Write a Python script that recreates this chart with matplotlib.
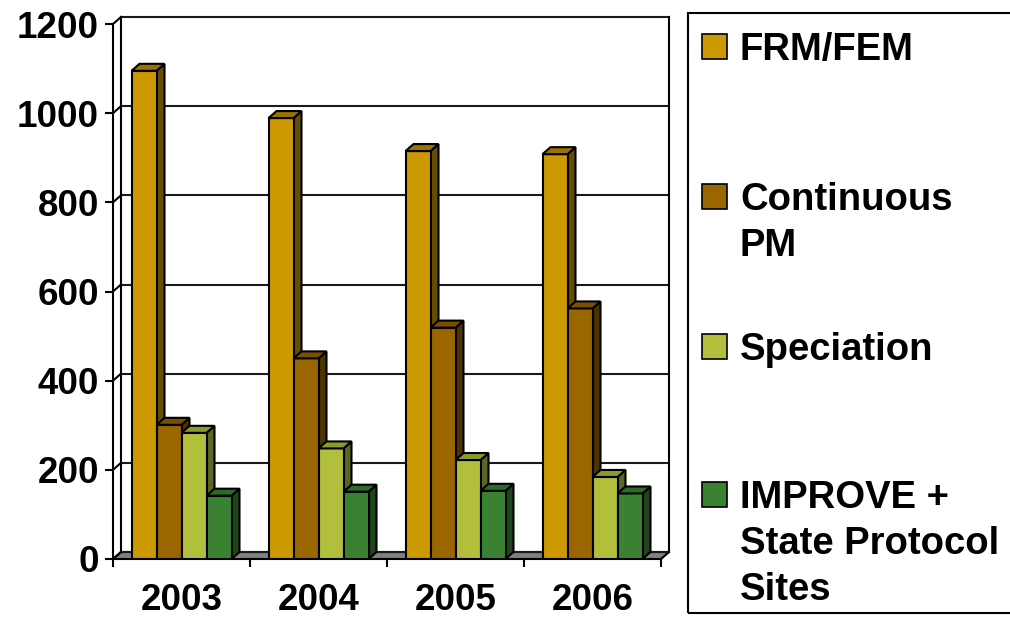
import matplotlib
matplotlib.use('Agg')
import matplotlib.pyplot as plt
from matplotlib.patches import Polygon, Rectangle
import numpy as np

plt.rcParams['font.family'] = ['Liberation Sans', 'DejaVu Sans']

years = ['2003', '2004', '2005', '2006']
series = ['FRM/FEM', 'Continuous\nPM', 'Speciation', 'IMPROVE +\nState Protocol\nSites']
frm_fem = [1095, 989, 915, 908]
continuous_pm = [301, 450, 519, 562]
speciation = [283, 248, 222, 184]
improve_state = [142, 151, 153, 147]
values = [frm_fem, continuous_pm, speciation, improve_state]
y_ticks = [0, 200, 400, 600, 800, 1000, 1200]

# front, top, side shades for each series
front_colors = ['#CC9900', '#996600', '#B2BF3D', '#3A8232']
top_colors = ['#997300', '#7A5000', '#8A9A30', '#2D6A27']
side_colors = ['#664D00', '#4D3300', '#5A6622', '#1F461B']

W, H = 1010, 619
fig = plt.figure(figsize=(W / 100, H / 100), dpi=100)

# front plane of the plot, in pixels
x0, x1 = 113, 661
y_base, y_top = 559, 24
ax = fig.add_axes([x0 / W, 1 - y_base / H, (x1 - x0) / W, (y_base - y_top) / H])
ax.set_xlim(-0.5, 3.5)
ax.set_ylim(0, 1200)
for s in ax.spines.values():
    s.set_visible(False)

px_x = (x1 - x0) / 4.0
px_y = (y_base - y_top) / 1200.0
dx = 8 / px_x          # depth offset, horizontal
dy = 7 / px_y          # depth offset, vertical
bar_w = 25 / px_x
lw = 1.5

xl, xr = -0.5, 3.5

# floor
floor = Polygon([(xl, 0), (xr, 0), (xr + dx, dy), (xl + dx, dy)], closed=True,
                facecolor='#808080', edgecolor='black', lw=lw, clip_on=False, zorder=1)
ax.add_patch(floor)

# back wall and left wall lines
for v in y_ticks:
    ax.plot([xl + dx, xr + dx], [v + dy, v + dy], color='#1a1a1a', lw=lw, clip_on=False, zorder=1)
    ax.plot([xl, xl + dx], [v, v + dy], color='black', lw=lw, clip_on=False, zorder=1)
ax.plot([xl, xl], [0, 1200], color='black', lw=lw, clip_on=False, zorder=1)
ax.plot([xl + dx, xl + dx], [dy, 1200 + dy], color='black', lw=lw, clip_on=False, zorder=1)
ax.plot([xr + dx, xr + dx], [dy, 1200 + dy], color='black', lw=lw, clip_on=False, zorder=1)

# bars: front faces via ax.bar, then top and side faces
x = np.arange(len(years))
z = 2
for gi in range(len(years)):
    for k, vals in enumerate(values):
        xc = x[gi] + (k - 1.5) * bar_w
        v = vals[gi]
        left = xc - bar_w / 2
        right = xc + bar_w / 2
        ax.bar(xc, v, width=bar_w, color=front_colors[k], edgecolor='black',
               linewidth=lw, zorder=z)
        top = Polygon([(left, v), (right, v), (right + dx, v + dy), (left + dx, v + dy)],
                      closed=True, facecolor=top_colors[k], edgecolor='black', lw=lw,
                      zorder=z, clip_on=False)
        side = Polygon([(right, 0), (right + dx, dy), (right + dx, v + dy), (right, v)],
                       closed=True, facecolor=side_colors[k], edgecolor='black', lw=lw,
                       zorder=z - 0.5, clip_on=False)
        ax.add_patch(side)
        ax.add_patch(top)
        z += 1

ax.set_yticks(y_ticks)
ax.set_yticklabels([str(t) for t in y_ticks], fontsize=26.5, fontweight='bold')
ax.tick_params(axis='y', direction='out', length=6, width=lw, pad=4)

ax.set_xticks(np.arange(-0.5, 4, 1.0))
ax.set_xticklabels([])
ax.tick_params(axis='x', which='major', direction='out', length=6, width=lw)
ax.set_xticks(x, minor=True)
ax.set_xticklabels(years, minor=True, fontsize=26.5, fontweight='bold')
ax.tick_params(axis='x', which='minor', length=0, pad=17)


def fx(px):
    return px / W


def fy(py):
    return 1 - py / H


# legend box, running off the right edge
fig.add_artist(Rectangle((fx(688), fy(613)), fx(1020) - fx(688), fy(13) - fy(613),
                         transform=fig.transFigure, facecolor='none', edgecolor='black',
                         lw=1.5, clip_on=False))

first_baselines = [60, 210, 360, 508]
line_step = 46
for k, label in enumerate(series):
    b = first_baselines[k]
    fig.add_artist(Rectangle((fx(702), fy(b - 1)), fx(727) - fx(702), fy(b - 26) - fy(b - 1),
                             transform=fig.transFigure, facecolor=front_colors[k],
                             edgecolor='black', lw=1.2))
    for i, line in enumerate(label.split('\n')):
        fig.text(fx(740), fy(b + i * line_step), line, fontsize=27.5, fontweight='bold',
                 ha='left', va='baseline')

fig.savefig('out.png', dpi=100, facecolor='white')
